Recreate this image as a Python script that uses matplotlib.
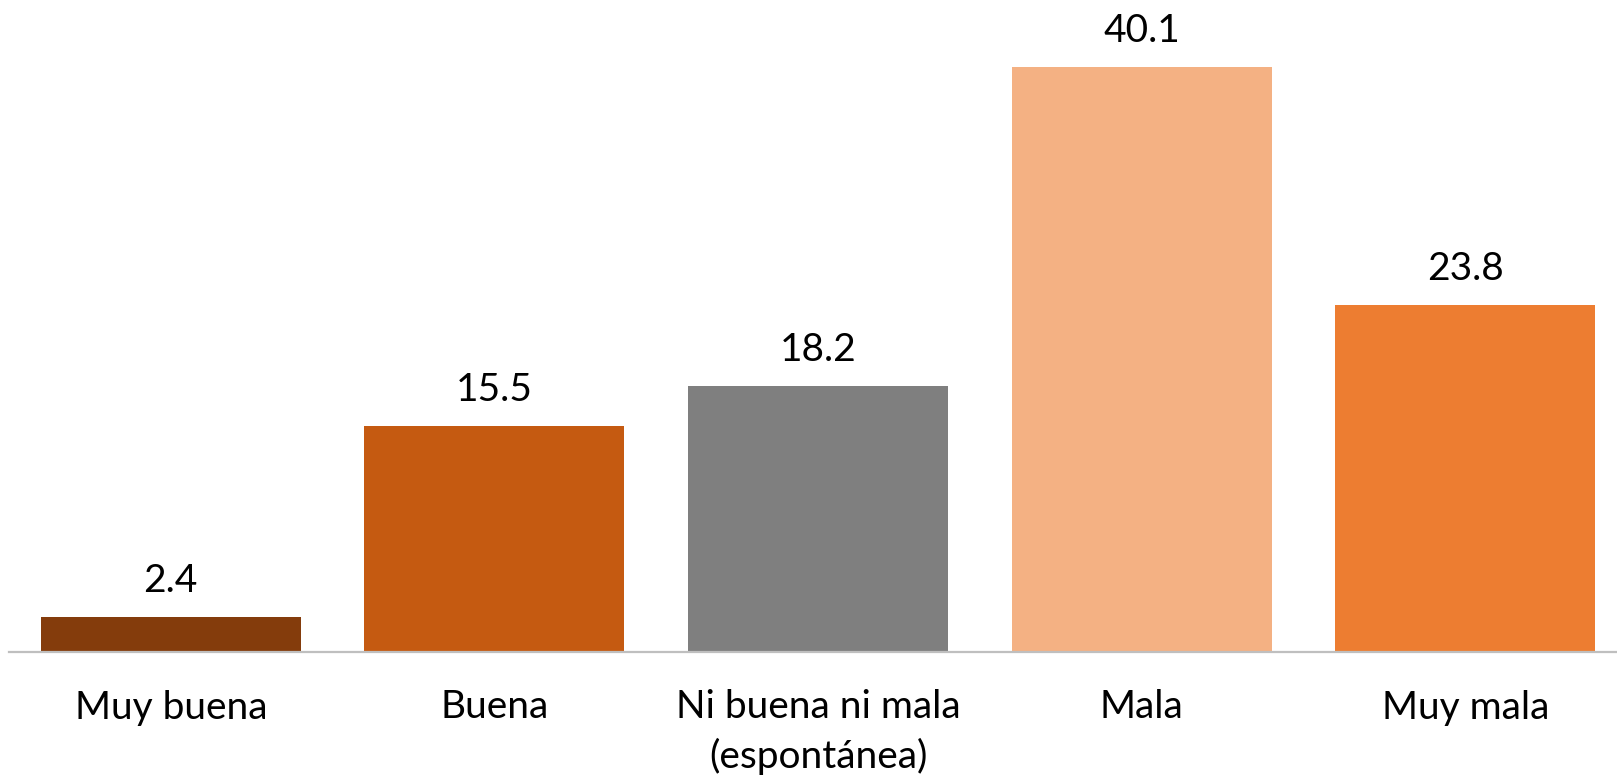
import matplotlib
matplotlib.use("Agg")
import matplotlib.pyplot as plt

categories = ["Muy buena", "Buena", "Ni buena ni mala\n(espontánea)", "Mala", "Muy mala"]
values = [2.4, 15.5, 18.2, 40.1, 23.8]
colors = ["#843C0C", "#C55A11", "#7F7F7F", "#F4B183", "#ED7D31"]

plt.rcParams['font.family'] = ['Lato', 'DejaVu Sans']

W, H = 1617, 782
fig = plt.figure(figsize=(W / 100, H / 100), dpi=100)
ax = fig.add_axes([9 / W, (H - 652) / H, 1618 / W, (652 - 67) / H])

x = range(len(categories))
bars = ax.bar(x, values, width=0.804, color=colors, zorder=2)
ax.set_xlim(-0.5, 4.5)
ax.set_ylim(0, 40.1)

for b, v in zip(bars, values):
    ax.annotate(f"{v:.1f}", (b.get_x() + b.get_width() / 2, v),
                xytext=(0, 13), textcoords="offset points",
                ha="center", va="bottom", fontsize=28, color="#000000",
                annotation_clip=False)

ax.set_xticks(list(x))
ax.set_xticklabels(categories, fontsize=28, linespacing=1.4)
ax.tick_params(axis="x", length=0, pad=27)
ax.set_yticks([])
for s in ["top", "right", "left"]:
    ax.spines[s].set_visible(False)
ax.spines["bottom"].set_color("#BFBFBF")
ax.spines["bottom"].set_linewidth(1.6)
ax.spines["bottom"].set_zorder(3)

fig.savefig("out.png", dpi=100)
